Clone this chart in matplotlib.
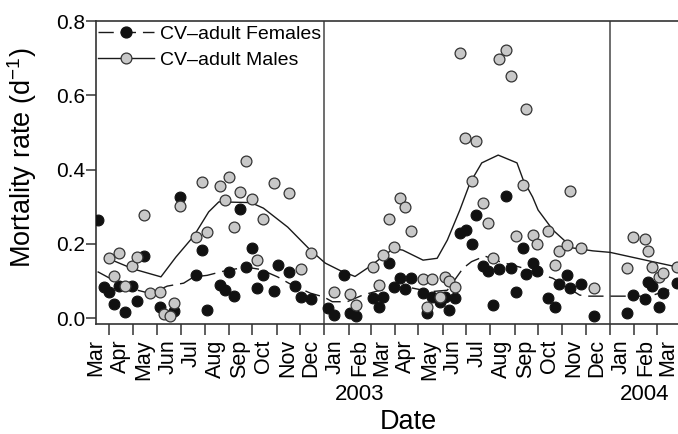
import pandas as pd
import matplotlib

matplotlib.use("agg")
import matplotlib.pyplot as plt
import matplotlib.dates as mdates
from matplotlib.lines import Line2D

plt.rcParams["font.family"] = ["Liberation Sans", "DejaVu Sans"]
plt.rcParams["mathtext.fontset"] = "custom"
plt.rcParams["mathtext.rm"] = "Liberation Sans"

# sampling dates and mortality rates
female_dates = [
    "2002-03-17", "2002-03-25", "2002-04-01", "2002-04-07", "2002-04-14", "2002-04-21",
    "2002-04-30", "2002-05-06", "2002-05-15", "2002-06-05", "2002-06-23", "2002-06-30",
    "2002-07-21", "2002-07-28", "2002-08-04", "2002-08-20", "2002-08-27", "2002-09-01",
    "2002-09-08", "2002-09-15", "2002-09-23", "2002-09-30", "2002-10-07", "2002-10-14",
    "2002-10-28", "2002-11-02", "2002-11-17", "2002-11-24", "2002-12-02", "2002-12-15",
    "2003-01-05", "2003-01-13", "2003-01-26", "2003-02-03", "2003-02-10", "2003-03-04",
    "2003-03-12", "2003-03-17", "2003-03-24", "2003-03-31", "2003-04-08", "2003-04-14",
    "2003-04-22", "2003-05-07", "2003-05-12", "2003-05-19", "2003-05-28", "2003-06-04",
    "2003-06-09", "2003-06-17", "2003-06-23", "2003-07-01", "2003-07-08", "2003-07-14",
    "2003-07-22", "2003-07-29", "2003-08-05", "2003-08-12", "2003-08-21", "2003-08-28",
    "2003-09-03", "2003-09-12", "2003-09-16", "2003-09-25", "2003-09-30", "2003-10-14",
    "2003-10-22", "2003-10-28", "2003-11-07", "2003-11-11", "2003-11-25", "2003-12-11",
    "2004-01-23", "2004-01-30", "2004-02-14", "2004-02-18", "2004-02-24", "2004-03-03",
    "2004-03-09", "2004-03-26",
]
female_rate = [
    0.264, 0.085, 0.071, 0.039, 0.086, 0.016, 0.087, 0.046, 0.166, 0.030, 0.020, 0.325,
    0.115, 0.182, 0.022, 0.089, 0.075, 0.125, 0.059, 0.295, 0.138, 0.188, 0.081, 0.116,
    0.074, 0.143, 0.125, 0.086, 0.057, 0.052,
    0.026, 0.008, 0.115, 0.013, 0.005, 0.054, 0.030, 0.057, 0.147, 0.084, 0.107, 0.079,
    0.107, 0.068, 0.013, 0.057, 0.044, 0.057, 0.022, 0.053, 0.230, 0.237, 0.199, 0.278,
    0.140, 0.128, 0.035, 0.131, 0.330, 0.134, 0.071, 0.188, 0.120, 0.147, 0.128, 0.053,
    0.030, 0.092, 0.116, 0.080, 0.092, 0.005,
    0.013, 0.062, 0.051, 0.098, 0.086, 0.029, 0.067, 0.094,
]

male_dates = [
    "2002-04-01", "2002-04-07", "2002-04-14", "2002-04-21", "2002-04-30", "2002-05-06",
    "2002-05-15", "2002-05-23", "2002-06-05", "2002-06-10", "2002-06-17", "2002-06-23",
    "2002-06-30", "2002-07-21", "2002-07-28", "2002-08-04", "2002-08-20", "2002-08-27",
    "2002-09-01", "2002-09-08", "2002-09-15", "2002-09-23", "2002-09-30", "2002-10-07",
    "2002-10-14", "2002-10-28", "2002-11-17", "2002-12-02", "2002-12-15",
    "2003-01-13", "2003-02-03", "2003-02-10", "2003-03-04", "2003-03-12", "2003-03-17",
    "2003-03-24", "2003-03-31", "2003-04-08", "2003-04-14", "2003-04-22", "2003-05-07",
    "2003-05-12", "2003-05-19", "2003-05-28", "2003-06-04", "2003-06-09", "2003-06-17",
    "2003-06-23", "2003-06-30", "2003-07-08", "2003-07-14", "2003-07-22", "2003-07-29",
    "2003-08-05", "2003-08-12", "2003-08-21", "2003-08-28", "2003-09-03", "2003-09-12",
    "2003-09-16", "2003-09-25", "2003-09-30", "2003-10-14", "2003-10-22", "2003-10-28",
    "2003-11-07", "2003-11-11", "2003-11-25", "2003-12-11",
    "2004-01-23", "2004-01-30", "2004-02-14", "2004-02-18", "2004-02-24", "2004-03-03",
    "2004-03-09", "2004-03-26",
]
male_rate = [
    0.161, 0.113, 0.176, 0.086, 0.141, 0.164, 0.278, 0.067, 0.071, 0.010, 0.005, 0.041,
    0.302, 0.219, 0.366, 0.233, 0.357, 0.318, 0.381, 0.245, 0.340, 0.424, 0.321, 0.157,
    0.267, 0.363, 0.338, 0.131, 0.176,
    0.071, 0.065, 0.035, 0.137, 0.090, 0.170, 0.266, 0.191, 0.323, 0.298, 0.235, 0.104,
    0.030, 0.105, 0.058, 0.110, 0.101, 0.085, 0.715, 0.484, 0.368, 0.476, 0.309, 0.257,
    0.161, 0.697, 0.722, 0.652, 0.221, 0.358, 0.563, 0.224, 0.199, 0.235, 0.143, 0.181,
    0.197, 0.342, 0.188, 0.080,
    0.134, 0.219, 0.212, 0.181, 0.137, 0.110, 0.122, 0.137,
]

# smoothed trends
female_fit_dates = [
    "2002-03-17", "2002-04-15", "2002-05-07", "2002-05-24", "2002-06-14", "2002-07-05",
    "2002-07-18", "2002-08-04", "2002-08-30", "2002-09-24", "2002-10-11", "2002-11-02",
    "2002-11-18", "2002-12-14", "2002-12-31", "2003-01-11", "2003-01-30", "2003-02-19",
    "2003-03-22", "2003-04-16", "2003-05-16", "2003-06-07", "2003-06-27", "2003-07-08",
    "2003-07-25", "2003-08-13", "2003-09-08", "2003-10-20", "2003-11-23", "2003-12-02",
    "2004-02-21", "2004-03-28",
]
female_fit = [
    0.125, 0.092, 0.075, 0.066, 0.086, 0.094, 0.111, 0.115, 0.129, 0.137, 0.131, 0.111,
    0.092, 0.067, 0.057, 0.044, 0.044, 0.062, 0.080, 0.084, 0.071, 0.075, 0.134, 0.152,
    0.167, 0.152, 0.137, 0.107, 0.062, 0.059, 0.059, 0.084,
]
male_fit_dates = [
    "2002-03-31", "2002-05-02", "2002-06-06", "2002-06-25", "2002-07-18", "2002-08-06",
    "2002-08-19", "2002-09-29", "2002-10-15", "2002-11-15", "2002-12-14", "2003-01-02",
    "2003-01-21", "2003-02-09", "2003-02-28", "2003-03-30", "2003-04-11", "2003-05-07",
    "2003-05-25", "2003-06-07", "2003-06-23", "2003-07-06", "2003-07-21", "2003-08-11",
    "2003-09-04", "2003-09-12", "2003-09-24", "2003-10-01", "2003-10-20", "2003-11-14",
    "2003-12-10", "2004-01-01", "2004-02-24", "2004-03-28",
]
male_fit = [
    0.160, 0.132, 0.111, 0.164, 0.221, 0.286, 0.313, 0.311, 0.296, 0.245, 0.183, 0.148,
    0.128, 0.112, 0.139, 0.187, 0.183, 0.156, 0.161, 0.210, 0.291, 0.364, 0.418, 0.439,
    0.418, 0.372, 0.326, 0.291, 0.237, 0.189, 0.181, 0.177, 0.152, 0.137,
]

year_breaks = ["2003-01-01", "2004-01-01"]
year_labels = ["2003", "2004"]
year_label_dates = ["2003-02-15", "2004-02-14"]

fem_x = pd.to_datetime(female_dates)
male_x = pd.to_datetime(male_dates)

fig = plt.figure(figsize=(6.78, 4.34), dpi=100)
ax = fig.add_axes([96 / 678, 110 / 434, 582 / 678, 303.3 / 434])

dash = (0, (11, 5))
ms = 7.8
ax.plot(pd.to_datetime(female_fit_dates), female_fit, color="#1a1a1a", lw=1.0, ls=dash, zorder=3)
ax.plot(pd.to_datetime(male_fit_dates), male_fit, color="#1a1a1a", lw=1.0, zorder=3)

ax.plot(fem_x, female_rate, "o", ms=ms, mfc="#111111", mec="#111111", mew=0.8, zorder=4)
ax.plot(male_x, male_rate, "o", ms=ms, mfc="#c8c8c8", mec="#333333", mew=0.9, zorder=5)

for d in year_breaks:
    ax.axvline(pd.Timestamp(d), color="#555555", lw=1.2, zorder=2)

ax.set_xlim(pd.Timestamp("2002-03-15"), pd.Timestamp("2004-03-27 19:00"))
ax.set_ylim(-0.016, 0.801)

ax.spines["right"].set_visible(False)
for s in ["left", "bottom", "top"]:
    ax.spines[s].set_linewidth(1.2)
    ax.spines[s].set_color("#333333")

ax.set_yticks([0.0, 0.2, 0.4, 0.6, 0.8])
ax.set_yticklabels(["0.0", "0.2", "0.4", "0.6", "0.8"])
ax.tick_params(axis="y", length=7, width=1.1, pad=1, labelsize=15, color="#333333")

ax.xaxis.set_major_locator(mdates.MonthLocator(bymonthday=15))
ax.xaxis.set_major_formatter(mdates.DateFormatter("%b"))
ax.xaxis.set_minor_locator(mdates.MonthLocator(bymonthday=1))
ax.tick_params(axis="x", which="major", length=0, pad=11, labelsize=15.5, labelrotation=90)
ax.tick_params(axis="x", which="minor", length=8, width=1.1, color="#333333")
for lab in ax.get_xticklabels():
    lab.set_va("top")

for d, t in zip(year_label_dates, year_labels):
    ax.text(pd.Timestamp(d), -0.231, t, transform=ax.get_xaxis_transform(),
            ha="center", va="center", fontsize=16)

fig.text(408 / 678, 1 - 422 / 434, "Date", ha="center", va="center", fontsize=19.5)
fig.text(22 / 678, 1 - 158 / 434, r"Mortality rate (d$\mathregular{^{-1}}$)",
         rotation=90, ha="center", va="center", fontsize=19.5)

handles = [
    Line2D([], [], color="#1a1a1a", lw=1.0, ls=dash, marker="o", ms=ms,
           mfc="#111111", mec="#111111"),
    Line2D([], [], color="#1a1a1a", lw=1.0, marker="o", ms=ms,
           mfc="#c8c8c8", mec="#333333", mew=0.9),
]
ax.legend(handles, ["CV\u2013adult Females", "CV\u2013adult Males"], loc="upper left",
          bbox_to_anchor=(98 / 678, 1 - 25 / 434), bbox_transform=fig.transFigure,
          frameon=False, fontsize=14, handlelength=2.9, handletextpad=0.3,
          borderpad=0, borderaxespad=0, labelspacing=0.45, numpoints=1)

fig.savefig("out.png", dpi=100)
